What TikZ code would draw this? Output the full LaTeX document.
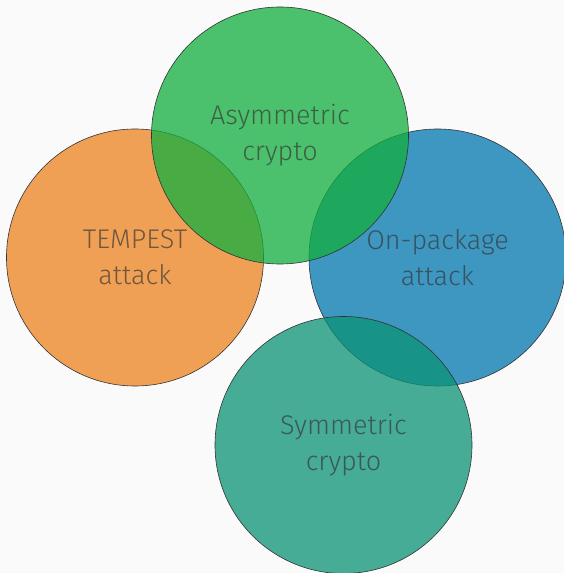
\documentclass[tikz,border=0pt]{standalone}
\usepackage{fontspec}
\setmainfont{Fira Sans Light}
\definecolor{pagebg}{HTML}{FAFAFA}
\definecolor{tempest}{HTML}{ED821E}
\definecolor{asym}{HTML}{12AF3E}
\definecolor{onpkg}{HTML}{0077AF}
\definecolor{sym}{HTML}{0A9275}
\definecolor{inkgray}{HTML}{333333}

\tikzset{
  area/.style={circle,minimum size=257pt,inner sep=0pt,draw=black!80,line width=0.6pt,
    fill opacity=0.75,text=inkgray,text opacity=0.68,align=center,
    font=\fontsize{27}{36}\selectfont},
}

\begin{document}
\begin{tikzpicture}[x=1pt,y=1pt]
  \useasboundingbox (0,0) rectangle (564,573);
  \fill[pagebg] (0,0) rectangle (564,573);
  \clip (0,0) rectangle (564,573);
  % attack side first, crypto circles on top
  \node[area,fill=tempest] (tempest) at (135,315.5) {TEMPEST\\attack};
  \node[area,fill=onpkg] (onpkg) at (437.5,315.5) {On-package\\attack};
  \node[area,fill=asym] (asym) at (280,437.5) {Asymmetric\\crypto};
  \node[area,fill=sym] (sym) at (343.5,128) {Symmetric\\crypto};
\end{tikzpicture}
\end{document}
